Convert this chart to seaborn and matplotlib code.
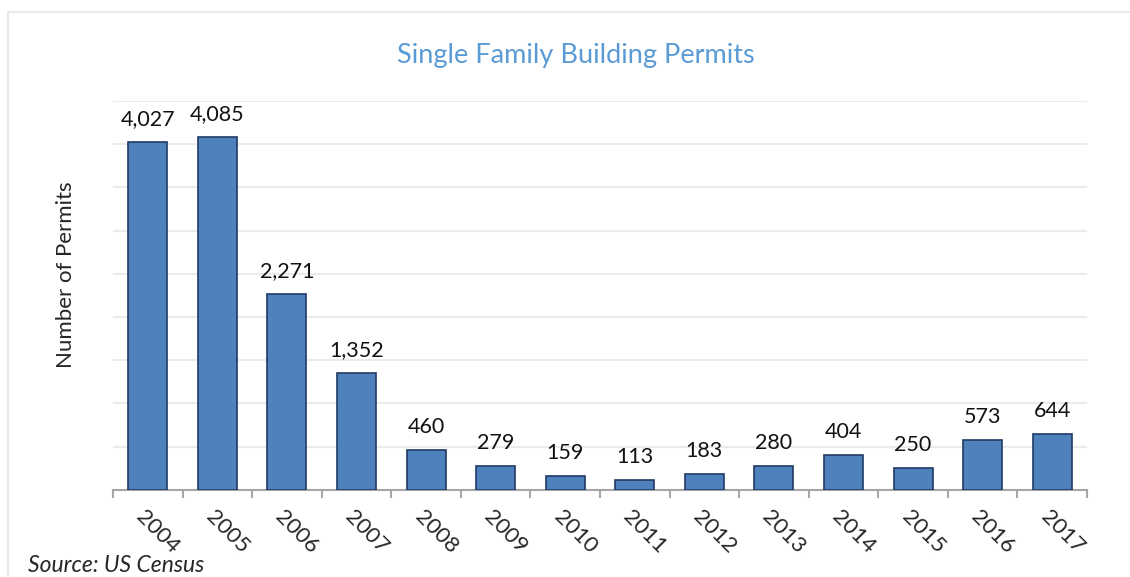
import numpy as np
import pandas as pd
import matplotlib
matplotlib.use('Agg')
import matplotlib.pyplot as plt
import matplotlib.transforms as mtransforms
import seaborn as sns

years = ['2004', '2005', '2006', '2007', '2008', '2009', '2010',
         '2011', '2012', '2013', '2014', '2015', '2016', '2017']
permits = [4027, 4085, 2271, 1352, 460, 279, 159, 113, 183, 280, 404, 250, 573, 644]

df = pd.DataFrame({'year': years, 'permits': permits})

sns.set_style('white')
plt.rcParams['font.family'] = ['Lato', 'DejaVu Sans']

fig = plt.figure(figsize=(11.3, 5.77), dpi=100)
ax = fig.add_axes([0.1, 0.151, 0.862, 0.674])

# light frame around the whole chart
fig.patches.append(plt.Rectangle((0.007, -0.1), 1.2, 1.079, transform=fig.transFigure,
                                 fill=False, edgecolor='#e6e6e6', linewidth=1.2))

sns.barplot(data=df, x='year', y='permits', ax=ax, color='#4f81bd', saturation=1,
            width=0.56, edgecolor='#1f3b63', linewidth=1.2, zorder=3)

ax.set_ylim(0, 4500)
ax.set_xlim(-0.5, len(years) - 0.5)
ax.set_yticks(np.arange(500, 4501, 500))
ax.yaxis.grid(True, color='#ebebeb', linewidth=1.5, zorder=0)
ax.tick_params(axis='y', left=False, labelleft=False)

for s in ['top', 'right', 'left']:
    ax.spines[s].set_visible(False)
ax.spines['bottom'].set_color('#a6a6a6')
ax.spines['bottom'].set_linewidth(1.5)

# ticks on category boundaries, labels under bars
ax.set_xticks(np.arange(-0.5, len(years)), minor=True)
ax.tick_params(axis='x', which='minor', bottom=True, length=6, width=1.5, color='#a6a6a6')
ax.tick_params(axis='x', which='major', bottom=False, pad=14)
ax.set_xticks(range(len(years)))
ax.set_xticklabels(years, rotation=-45, ha='left', va='center', fontsize=16,
                   rotation_mode='anchor')
shift = mtransforms.ScaledTranslation(-6 / 72, 0, fig.dpi_scale_trans)
for lbl in ax.get_xticklabels():
    lbl.set_transform(lbl.get_transform() + shift)

for i, v in enumerate(permits):
    ax.text(i, v + 150, f'{v:,}', ha='center', va='bottom', fontsize=15.5, color='#111111')

ax.set_xlabel('')
ax.set_ylabel('Number of Permits', fontsize=16)
ax.yaxis.set_label_coords(-0.038, 0.553)
fig.suptitle('Single Family Building Permits', x=0.51, y=0.925, fontsize=19.5, color='#5b9bd5')

fig.text(0.025, 0.002, 'Source: US Census', fontsize=16.5, style='italic', ha='left', va='bottom')

fig.savefig('out.png', dpi=100)
